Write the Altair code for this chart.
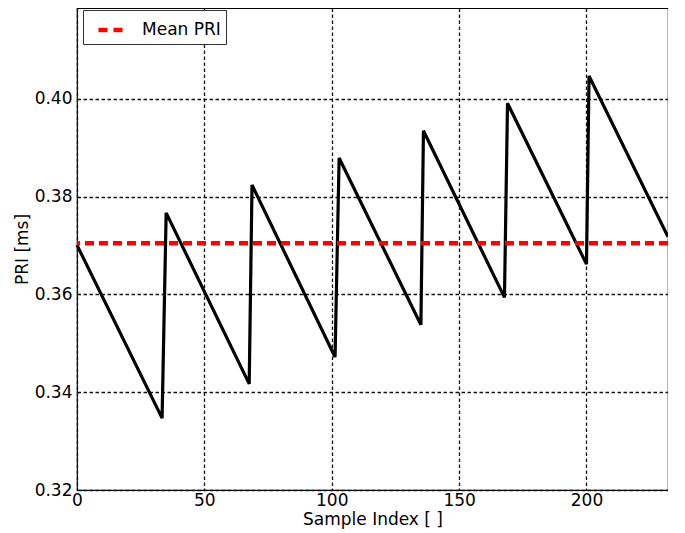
import altair as alt
import pandas as pd

# Sawtooth PRI sequence (vertices)
sample_index = [0, 33.4, 35.0, 67.6, 68.7, 101.3, 102.9, 135.0, 136.0, 167.8, 169.0, 200.0, 201.0, 232.0]
pri_ms = [0.3701, 0.3347, 0.3767, 0.3417, 0.3824, 0.3472, 0.3879, 0.3538, 0.3935, 0.3594, 0.3991, 0.3662, 0.4047, 0.3718]

mean_label = ["Mean PRI"]
mean_value = [0.3705]

x_ticks = [0, 50, 100, 150, 200]
y_ticks = [0.32, 0.34, 0.36, 0.38, 0.40]

FONT = "DejaVu Sans"

df = pd.DataFrame({"x": sample_index, "y": pri_ms})
mean_df = pd.DataFrame({"y": mean_value, "series": mean_label})

x_scale = alt.Scale(domain=[0, 232], nice=False, zero=False)
y_scale = alt.Scale(domain=[0.32, 0.4186], nice=False, zero=False)

line = alt.Chart(df).mark_line(color="black", strokeWidth=3.2, strokeJoin="miter").encode(
    x=alt.X("x:Q", scale=x_scale, title="Sample Index [ ]",
            axis=alt.Axis(values=x_ticks, format="d")),
    y=alt.Y("y:Q", scale=y_scale, title="PRI [ms]",
            axis=alt.Axis(values=y_ticks, format=".2f")),
)

rule = alt.Chart(mean_df).mark_rule(strokeWidth=4.5, strokeDash=[9, 5]).encode(
    y=alt.Y("y:Q", scale=y_scale),
    color=alt.Color(
        "series:N",
        scale=alt.Scale(range=["red"]),
        legend=alt.Legend(
            title=None, orient="none", legendX=6, legendY=2,
            symbolType="stroke", symbolStrokeWidth=4.5, symbolDash=[9, 6],
            symbolSize=625, symbolOffset=8, strokeColor="#333333", fillColor="white",
            padding=5, cornerRadius=0, labelFontSize=17, labelFont=FONT,
            labelColor="black", labelOffset=16,
        ),
    ),
)

chart = (line + rule).properties(
    width=591, height=482,
    autosize=alt.AutoSizeParams(type="none"),
    padding={"left": 69, "top": 0, "right": 0, "bottom": 40},
).configure_view(
    stroke="black", strokeWidth=1.2
).configure_axis(
    grid=True, gridColor="#111111", gridOpacity=1, gridDash=[3.5, 2.5], gridWidth=1.3,
    domain=False, ticks=False, labelFlush=False,
    labelFont=FONT, labelFontSize=17, labelColor="black", labelPadding=5,
    titleFont=FONT, titleFontSize=17, titleFontWeight="normal", titleColor="black",
).configure_axisX(
    titlePadding=3, labelPadding=2
).configure_axisY(
    titlePadding=3
)

chart.save("out.html", embed_options={"renderer": "svg", "actions": False})
